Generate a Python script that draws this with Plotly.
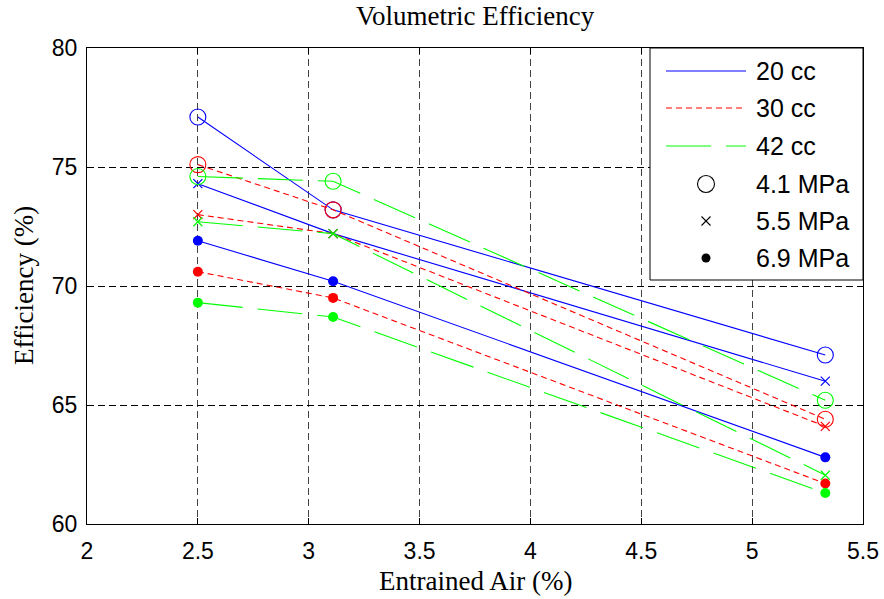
import plotly.graph_objects as go

# ---------------- data ----------------
entrained_air = [2.5, 3.11, 5.33]  # %

displacements = ["20 cc", "30 cc", "42 cc"]
pressures = ["4.1 MPa", "5.5 MPa", "6.9 MPa"]

eff_20cc_41 = [77.1, 73.2, 67.1]
eff_20cc_55 = [74.3, 72.2, 66.0]
eff_20cc_69 = [71.9, 70.2, 62.8]

eff_30cc_41 = [75.1, 73.2, 64.4]
eff_30cc_55 = [73.0, 72.2, 64.1]
eff_30cc_69 = [70.6, 69.5, 61.7]

eff_42cc_41 = [74.6, 74.4, 65.2]
eff_42cc_55 = [72.7, 72.2, 62.05]
eff_42cc_69 = [69.3, 68.7, 61.3]

x_ticks = [2, 2.5, 3, 3.5, 4, 4.5, 5, 5.5]
y_ticks = [60, 65, 70, 75, 80]

# ---------------- styles ----------------
line_styles = {
    "20 cc": dict(color="#0000ff", dash="solid"),
    "30 cc": dict(color="#ff0000", dash="6px,4px"),
    "42 cc": dict(color="#00ff00", dash="45px,15px"),
}
marker_styles = {
    "4.1 MPa": dict(symbol="circle-open", size=16, lw=1.1),
    "5.5 MPa": dict(symbol="x-thin-open", size=9, lw=1.2),
    "6.9 MPa": dict(symbol="circle", size=10, lw=0),
}

series = {
    ("20 cc", "4.1 MPa"): eff_20cc_41,
    ("20 cc", "5.5 MPa"): eff_20cc_55,
    ("20 cc", "6.9 MPa"): eff_20cc_69,
    ("30 cc", "4.1 MPa"): eff_30cc_41,
    ("30 cc", "5.5 MPa"): eff_30cc_55,
    ("30 cc", "6.9 MPa"): eff_30cc_69,
    ("42 cc", "4.1 MPa"): eff_42cc_41,
    ("42 cc", "5.5 MPa"): eff_42cc_55,
    ("42 cc", "6.9 MPa"): eff_42cc_69,
}

fig = go.Figure()
for (disp, pres), vals in series.items():
    ls = line_styles[disp]
    ms = marker_styles[pres]
    fig.add_trace(go.Scatter(
        x=entrained_air, y=vals, mode="lines+markers",
        name=f"{disp}, {pres}", showlegend=False,
        line=dict(color=ls["color"], dash=ls["dash"], width=1.1),
        marker=dict(symbol=ms["symbol"], size=ms["size"], color=ls["color"],
                    line=dict(color=ls["color"], width=ms["lw"])),
    ))

# ---------------- layout ----------------
W, H = 884, 599
L, R, T, B = 87, 863, 48, 524


def px(x):
    return (x - L) / (R - L)


def py(y):
    return (B - y) / (B - T)


serif = "Liberation Serif, Times New Roman, serif"
sans = "Liberation Sans, Arial, sans-serif"

axis_common = dict(
    showline=True, linecolor="black", linewidth=1, mirror="ticks",
    ticks="inside", ticklen=6, tickwidth=1, tickcolor="black",
    showgrid=True, griddash="7px,4px", gridwidth=1, automargin=False,
    zeroline=False, tickfont=dict(family=sans, size=23, color="black"),
)

fig.update_layout(
    width=W, height=H, autosize=False,
    margin=dict(l=L, r=W - R, t=T, b=H - B, pad=0, autoexpand=False),
    plot_bgcolor="white", paper_bgcolor="white",
    showlegend=False,
    xaxis=dict(range=[2, 5.5], tickvals=x_ticks, ticktext=[f"{v:g}" for v in x_ticks],
               gridcolor="#444444", ticklabelstandoff=6, **axis_common),
    yaxis=dict(range=[60, 80], tickvals=y_ticks, ticktext=[str(v) for v in y_ticks],
               gridcolor="black", ticklabelstandoff=4, **axis_common),
)

annotations = [
    dict(text="Volumetric Efficiency", x=0.5, y=py(16), xref="paper", yref="paper",
         xanchor="center", yanchor="middle", showarrow=False,
         font=dict(family=serif, size=27, color="black")),
    dict(text="Entrained Air (%)", x=0.5, y=py(581), xref="paper", yref="paper",
         xanchor="center", yanchor="middle", showarrow=False,
         font=dict(family=serif, size=27, color="black")),
    dict(text="Efficiency (%)", x=px(24), y=0.5, xref="paper", yref="paper",
         xanchor="center", yanchor="middle", showarrow=False, textangle=-90,
         font=dict(family=serif, size=27, color="black")),
]

# ---------------- custom legend ----------------
shapes = [dict(type="rect", xref="paper", yref="paper",
               x0=px(650), x1=px(863), y0=py(280), y1=py(48),
               line=dict(color="black", width=1), fillcolor="white", layer="above")]

rows = [71, 108, 146, 184, 221, 258]
line_x0, line_x1, mark_x, text_x = 666, 746, 706, 754

for i, disp in enumerate(displacements):
    ls = line_styles[disp]
    yy = py(rows[i])
    shapes.append(dict(type="line", xref="paper", yref="paper",
                       x0=px(line_x0), x1=px(line_x1), y0=yy, y1=yy,
                       line=dict(color=ls["color"], dash=ls["dash"], width=1.1),
                       layer="above"))
    annotations.append(dict(text=disp, x=px(text_x), y=yy, xref="paper", yref="paper",
                            xanchor="left", yanchor="middle", showarrow=False,
                            font=dict(family=sans, size=25, color="black")))

for j, pres in enumerate(pressures):
    r = rows[3 + j]
    yy = py(r)
    if pres == "4.1 MPa":
        rad = 8.5
        shapes.append(dict(type="circle", xref="paper", yref="paper",
                           x0=px(mark_x - rad), x1=px(mark_x + rad),
                           y0=py(r + rad), y1=py(r - rad),
                           line=dict(color="black", width=1.1), layer="above"))
    elif pres == "5.5 MPa":
        h = 4.5
        for s in (1, -1):
            shapes.append(dict(type="line", xref="paper", yref="paper",
                               x0=px(mark_x - h), x1=px(mark_x + h),
                               y0=py(r - s * h), y1=py(r + s * h),
                               line=dict(color="black", width=1.1), layer="above"))
    else:
        rad = 4.5
        shapes.append(dict(type="circle", xref="paper", yref="paper",
                           x0=px(mark_x - rad), x1=px(mark_x + rad),
                           y0=py(r + rad), y1=py(r - rad),
                           line=dict(color="black", width=0), fillcolor="black",
                           layer="above"))
    annotations.append(dict(text=pres, x=px(text_x), y=yy, xref="paper", yref="paper",
                            xanchor="left", yanchor="middle", showarrow=False,
                            font=dict(family=sans, size=25, color="black")))

fig.update_layout(shapes=shapes, annotations=annotations)

fig.write_html(
    "out.html",
    config={"displayModeBar": False, "responsive": False},
    post_script=(
        "document.documentElement.style.margin='0px';"
        "document.body.style.margin='0px';"
        "document.body.style.padding='0px';"
        "document.body.style.overflow='hidden';"
        "Plotly.relayout(document.getElementById('{plot_id}'), {width: 884, height: 599});"
    ),
)
